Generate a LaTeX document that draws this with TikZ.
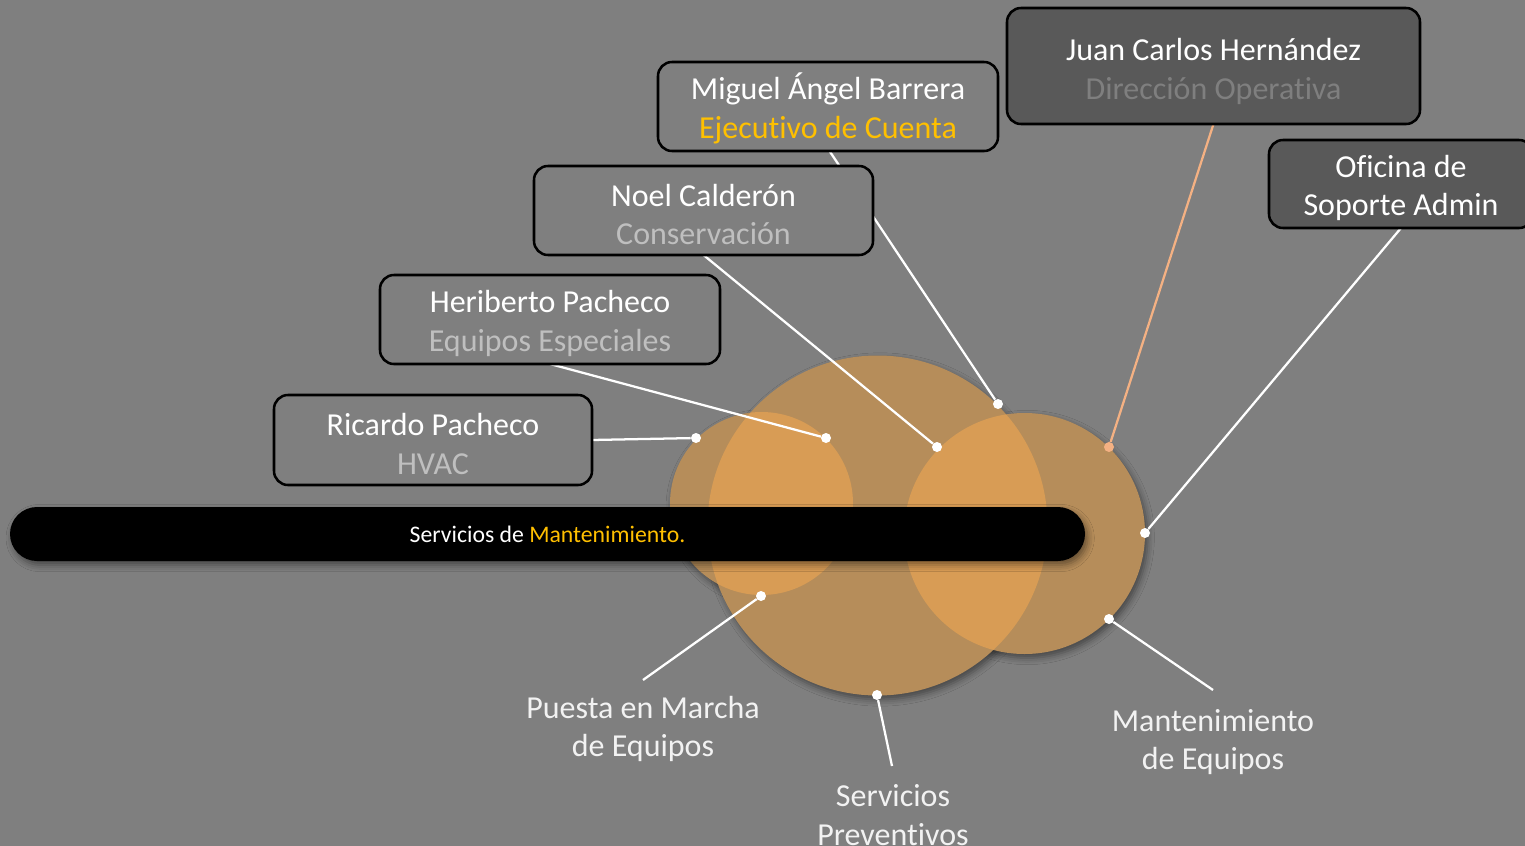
\documentclass[tikz,border=0pt]{standalone}
\usepackage{fontspec}
\setmainfont{Carlito}[Ligatures=NoCommon]
\usetikzlibrary{shadows.blur}
\definecolor{bg}{HTML}{7F7F7F}
\definecolor{tan}{HTML}{B68D5A}
\definecolor{orng}{HTML}{D89C55}
\definecolor{darkbox}{HTML}{595959}
\definecolor{gold}{HTML}{FFC000}
\definecolor{subgray}{HTML}{BFBFBF}
\definecolor{salmon}{HTML}{F4B183}
\definecolor{lbltext}{HTML}{F2F2F2}
\newcommand\mytopstrut{\rule{0pt}{22.5pt}}
\tikzset{
  pbox/.style={draw=black, line width=1.9pt, rounded corners=10.5pt, fill=bg,
    inner sep=0pt, align=center, text=white,
    font=\fontsize{24pt}{29pt}\selectfont},
  dbox/.style={pbox, fill=darkbox},
  conn/.style={draw=white, line width=1.7pt},
  sconn/.style={draw=salmon, line width=1.7pt},
  dotnode/.style={circle, fill=white, inner sep=0pt, minimum size=7.5pt},
  sdotnode/.style={circle, fill=salmon, inner sep=0pt, minimum size=7.5pt},
  lbl/.style={align=center, text=lbltext, inner sep=0pt,
    font=\fontsize{24pt}{29pt}\selectfont},
  shad/.style={blur shadow={shadow xshift=2pt, shadow yshift=-3pt,
    shadow opacity=45, shadow blur radius=5pt}}
}
\begin{document}
\begin{tikzpicture}[x=0.75pt,y=-0.75pt]
\fill[bg] (0,0) rectangle (1525,846);
\useasboundingbox (0,0) rectangle (1525,846);

% circle shadows
\path[shad] (761.5,503.5) circle (91.5);
\path[shad] (877.5,525.5) circle (170);
\path[shad] (1024.5,533.5) circle (120.5);
% circles
\fill[tan] (761.5,503.5) circle (91.5);
\fill[tan] (877.5,525.5) circle (170);
\fill[tan] (1024.5,533.5) circle (120.5);
\begin{scope}
  \clip (877.5,525.5) circle (170);
  \fill[orng] (761.5,503.5) circle (91.5);
  \fill[orng] (1024.5,533.5) circle (120.5);
\end{scope}

% bar
\node[shad, fill=black, rounded corners=20.25pt, minimum width=806.25pt,
  minimum height=40.5pt, inner sep=0pt, text=white,
  font=\fontsize{17.8pt}{21pt}\selectfont] (bar) at (547.5,534)
  {Servicios de \textcolor{gold}{Mantenimiento.}};

% dots
\node[dotnode] (dRic) at (696,438) {};
\node[dotnode] (dHer) at (826,438) {};
\node[dotnode] (dNoe) at (937,447) {};
\node[dotnode] (dMig) at (998,404) {};
\node[sdotnode] (dJua) at (1109,447) {};
\node[dotnode] (dOfi) at (1145,533) {};
\node[dotnode] (dPue) at (761,596) {};
\node[dotnode] (dSer) at (877,695) {};
\node[dotnode] (dMan) at (1109,619) {};

% bottom labels
\node[lbl] (lPue) at (643,729) {Puesta en Marcha\\de Equipos};
\node[lbl] (lSer) at (893,815) {Servicios\\Preventivos};
\node[lbl] (lMan) at (1213,742) {Mantenimiento\\de Equipos};
\coordinate (ePue) at (643,680);
\coordinate (eSer) at (892,766);
\coordinate (eMan) at (1213,690);

% boxes (positions)
\coordinate (pMig) at (828,106.5);
\coordinate (pNoe) at (703.5,210.5);
\coordinate (pHer) at (550,319.5);
\coordinate (pRic) at (433,440);
\coordinate (pJua) at (1213.5,66);
\coordinate (pOfi) at (1401,184);

% connectors (drawn first so boxes cover them)
\path (pMig) ++(1.5,44.5) coordinate (sMig);
\path (pNoe) ++(0,44.5) coordinate (sNoe);
\path (pHer) ++(0,44.5) coordinate (sHer);
\path (pRic) ++(159,0) coordinate (sRic);
\path (pJua) ++(0,58) coordinate (sJua);
\path (pOfi) ++(0,44) coordinate (sOfi);
\draw[conn] (sMig) -- (dMig);
\draw[conn] (sNoe) -- (dNoe);
\draw[conn] (sHer) -- (dHer);
\draw[conn] (sRic) -- (dRic);
\draw[sconn] (sJua) -- (dJua);
\draw[conn] (sOfi) -- (dOfi);
\draw[conn] (dPue) -- (ePue);
\draw[conn] (dSer) -- (eSer);
\draw[conn] (dMan) -- (eMan);

% boxes
\node[pbox, minimum width=255pt, minimum height=66.75pt] (bMig) at (pMig)
  {\mytopstrut Miguel Ángel Barrera\\\textcolor{gold}{Ejecutivo de Cuenta}};
\node[pbox, minimum width=254.25pt, minimum height=66.75pt] (bNoe) at (pNoe)
  {\mytopstrut Noel Calderón\\\textcolor{subgray}{Conservación}};
\node[pbox, minimum width=255pt, minimum height=66.75pt] (bHer) at (pHer)
  {\mytopstrut Heriberto Pacheco\\\textcolor{subgray}{Equipos Especiales}};
\node[pbox, minimum width=238.5pt, minimum height=67.5pt] (bRic) at (pRic)
  {\mytopstrut Ricardo Pacheco\\\textcolor{subgray}{HVAC}};
\node[dbox, minimum width=309.75pt, minimum height=87pt] (bJua) at (pJua)
  {\rule{0pt}{24.5pt}Juan Carlos Hernández\\\textcolor{bg}{Dirección Operativa}};
\node[dbox, minimum width=198pt, minimum height=66pt] (bOfi) at (pOfi)
  {\mytopstrut Oficina de\\Soporte Admin};
\end{tikzpicture}
\end{document}
